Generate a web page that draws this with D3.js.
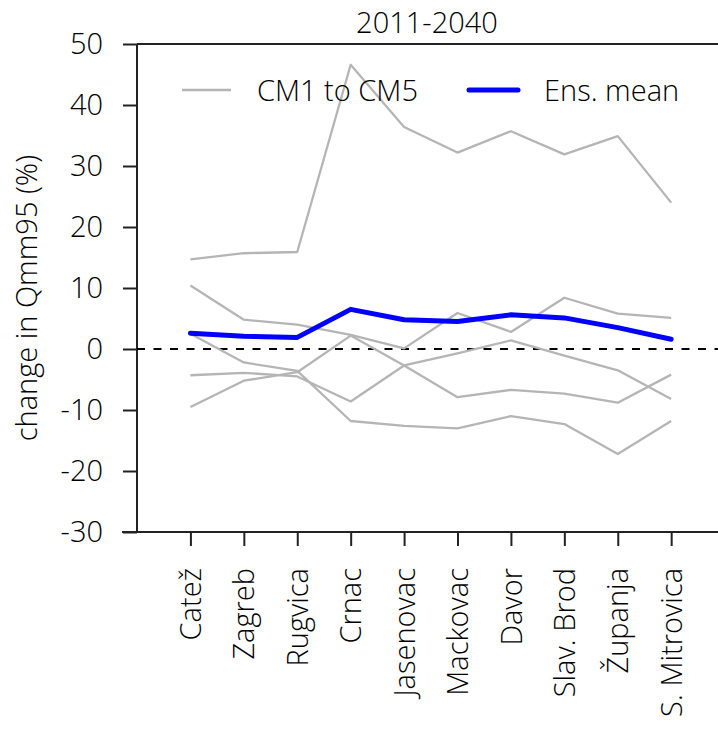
<!DOCTYPE html>
<html>
<head>
<meta charset="utf-8">
<script src="https://cdn.jsdelivr.net/npm/d3@7"></script>
<style>
  html, body { margin: 0; padding: 0; background: #fff; }
  svg { display: block; }
  text { font-family: "Open Sans", "DejaVu Sans", sans-serif; font-weight: 300; fill: #000; }
</style>
</head>
<body>
<svg id="chart" width="718" height="729"></svg>
<script>
// ---- data ----
const categories = ["Catež", "Zagreb", "Rugvica", "Crnac", "Jasenovac", "Mackovac", "Davor", "Slav. Brod", "Županja", "S. Mitrovica"];
const cm1 = [14.7, 15.7, 15.9, 46.6, 36.4, 32.2, 35.7, 31.9, 34.9, 24.0];
const cm2 = [10.4, 4.8, 4.0, 2.3, 0.1, 5.9, 2.8, 8.4, 5.8, 5.1];
const cm3 = [-4.3, -3.9, -4.5, -8.6, -2.7, -0.7, 1.4, -1.1, -3.5, -8.2];
const cm4 = [-9.5, -5.2, -3.8, 2.2, -2.7, -7.9, -6.7, -7.3, -8.8, -4.2];
const cm5 = [2.5, -2.2, -3.6, -11.8, -12.6, -13.0, -11.0, -12.3, -17.2, -11.8];
const ensMean = [2.6, 2.1, 1.9, 6.5, 4.8, 4.5, 5.6, 5.1, 3.5, 1.6];
const yTicks = [-30, -20, -10, 0, 10, 20, 30, 40, 50];
const title = "2011-2040";
const yLabel = "change in Qmm95 (%)";
const legendLabels = ["CM1 to CM5", "Ens. mean"];

// ---- layout ----
const mLeft = 137, mTop = 44, mBottom = 532, mRight = 724.6;
const svg = d3.select("#chart");

const x = d3.scalePoint().domain(categories).range([mLeft, mRight]).padding(1);
const y = d3.scaleLinear().domain([-30, 50]).range([mBottom, mTop]);

const fs = 29;

// frame top line
svg.append("line")
  .attr("x1", mLeft).attr("x2", mRight).attr("y1", mTop).attr("y2", mTop)
  .attr("stroke", "#222").attr("stroke-width", 2);

// y axis
const yAxis = svg.append("g").attr("transform", `translate(${mLeft},0)`)
  .call(d3.axisLeft(y).tickValues(yTicks).tickSize(14).tickPadding(20).tickFormat(d => String(d)));
yAxis.select(".domain").attr("stroke", "#222").attr("stroke-width", 2).attr("d", `M0,${mTop}V${mBottom}`);
yAxis.selectAll(".tick line").attr("stroke", "#222").attr("stroke-width", 2);
yAxis.selectAll(".tick text").attr("font-size", fs).attr("font-family", null);

// x axis
const xAxis = svg.append("g").attr("transform", `translate(0,${mBottom})`)
  .call(d3.axisBottom(x).tickSize(14).tickPadding(0));
xAxis.select(".domain").attr("stroke", "#222").attr("stroke-width", 2).attr("d", `M${mLeft - 15},0H${mRight}`);
xAxis.selectAll(".tick line").attr("stroke", "#222").attr("stroke-width", 2);
xAxis.selectAll(".tick text")
  .attr("font-size", fs).attr("font-family", null)
  .attr("transform", "rotate(-90)")
  .attr("text-anchor", "end")
  .attr("x", -36).attr("y", 0).attr("dy", "0.35em");

// zero line
svg.append("line")
  .attr("x1", mLeft).attr("x2", mRight).attr("y1", y(0)).attr("y2", y(0))
  .attr("stroke", "#000").attr("stroke-width", 2).attr("stroke-dasharray", "8,8.5");

// lines
const line = d3.line().x((d, i) => x(categories[i])).y(d => y(d));
[cm1, cm2, cm3, cm4, cm5].forEach(s => {
  svg.append("path").datum(s).attr("d", line)
    .attr("fill", "none").attr("stroke", "#b5b5b5").attr("stroke-width", 2.3).attr("stroke-linejoin", "round");
});
svg.append("path").datum(ensMean).attr("d", line)
  .attr("fill", "none").attr("stroke", "#0000ff").attr("stroke-width", 5).attr("stroke-linejoin", "round").attr("stroke-linecap", "round");

// title
svg.append("text").attr("x", 427).attr("y", 33).attr("text-anchor", "middle")
  .attr("font-size", fs).text(title);

// y label
svg.append("text").attr("transform", `translate(37,298) rotate(-90)`).attr("text-anchor", "middle")
  .attr("font-size", fs).text(yLabel);

// legend
const lg = svg.append("g");
lg.append("line").attr("x1", 182).attr("x2", 231).attr("y1", 90).attr("y2", 90)
  .attr("stroke", "#b5b5b5").attr("stroke-width", 2.3);
lg.append("text").attr("x", 257).attr("y", 100.5).attr("font-size", fs).text(legendLabels[0]);
lg.append("line").attr("x1", 469).attr("x2", 518).attr("y1", 90).attr("y2", 90)
  .attr("stroke", "#0000ff").attr("stroke-width", 5).attr("stroke-linecap", "round");
lg.append("text").attr("x", 544).attr("y", 100.5).attr("font-size", fs).text(legendLabels[1]);
</script>
</body>
</html>
